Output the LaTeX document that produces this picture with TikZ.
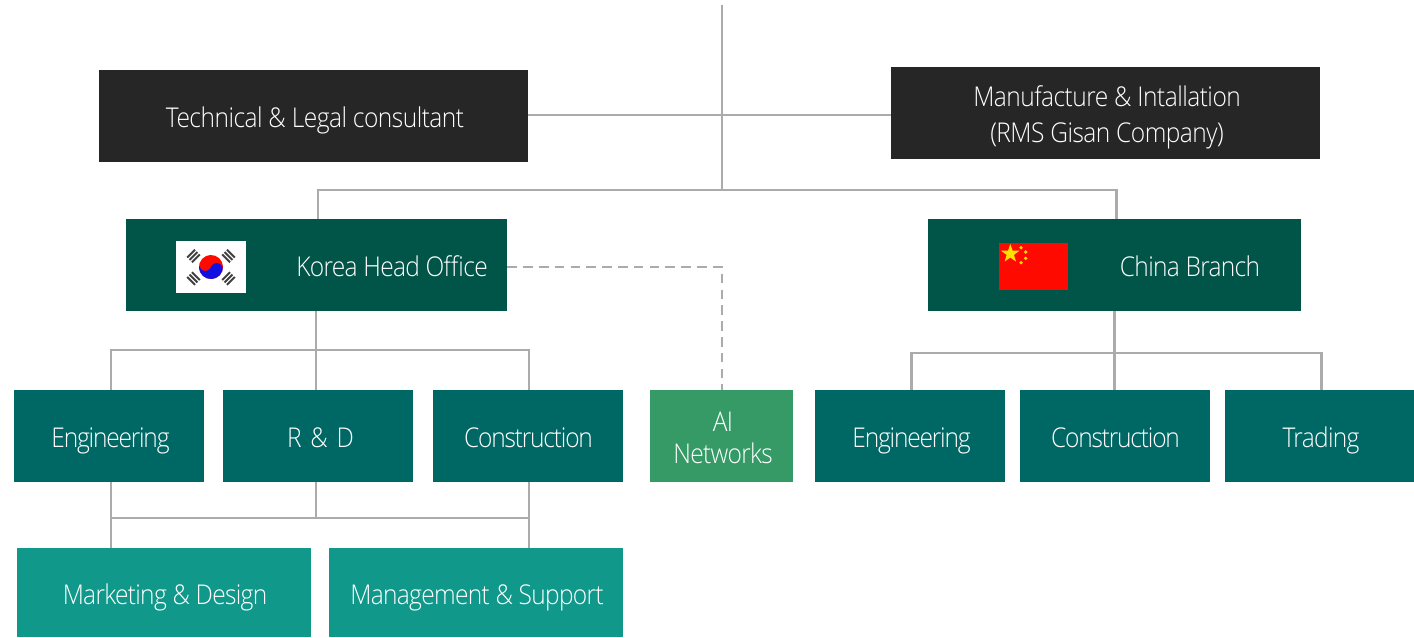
\documentclass[tikz,border=0pt]{standalone}
\usepackage{fontspec}
\setmainfont{Open Sans Light}[FakeStretch=0.9,LetterSpace=-2.5]
\usetikzlibrary{shapes.geometric}
\definecolor{linegray}{HTML}{ABABAB}
\definecolor{topgray}{HTML}{262626}
\definecolor{officegreen}{HTML}{005548}
\definecolor{deptteal}{HTML}{006864}
\definecolor{aigreen}{HTML}{359A66}
\definecolor{supportteal}{HTML}{10988A}
\definecolor{flagred}{HTML}{FF0A00}
\definecolor{flagblue}{HTML}{1010E0}
\definecolor{flagyellow}{HTML}{FFE000}
\tikzset{
  box/.style={inner sep=0, minimum height=1.84cm},
  link/.style={draw=linegray, line width=1.7pt},
  dashlink/.style={link, dash pattern=on 5.5pt off 3.5pt},
  lbl/.style={inner sep=0, text=white, align=center, font=\fontsize{15.5}{20}\selectfont, text height=11.5pt, text depth=0pt},
  lblwide/.style={lbl, font=\fontsize{15.5}{20}\selectfont\addfontfeature{LetterSpace=-1.9}},
  lbltight/.style={lbl, font=\fontsize{15.5}{20}\selectfont\addfontfeature{LetterSpace=-4.4}},
}
\begin{document}
\begin{tikzpicture} [x=.02cm,y=.02cm]
\useasboundingbox (0,0) rectangle (1414,637);
% top row
\node[box, fill=topgray, minimum width=8.58cm] (tech) at (313.5,521) {};
\node[box, fill=topgray, minimum width=8.58cm] (manu) at (1105.5,524) {};
\node[lblwide] (techlbl) at (315,520) {Technical \& Legal consultant};
\node[lblwide] (manulbl) at (1107,505) {Manufacture \& Intallation\\(RMS Gisan Company)};
% offices
\node[box, fill=officegreen, minimum width=7.62cm] (korea) at (316.5,372) {};
\node[box, fill=officegreen, minimum width=7.46cm] (china) at (1114.5,372) {};
\node[lbl] (korealbl) at (392,371) {Korea Head Office};
\node[lbl] (chinalbl) at (1190,371) {China Branch};
% departments
\node[box, fill=deptteal, minimum width=3.8cm] (engk) at (109,201) {};
\node[box, fill=deptteal, minimum width=3.8cm] (rnd) at (318,201) {};
\node[box, fill=deptteal, minimum width=3.8cm] (conk) at (528,201) {};
\node[box, fill=aigreen, minimum width=2.86cm] (ainet) at (721.5,201) {};
\node[box, fill=deptteal, minimum width=3.8cm] (engc) at (910,201) {};
\node[box, fill=deptteal, minimum width=3.8cm] (conc) at (1115,201) {};
\node[box, fill=deptteal, minimum width=3.78cm] (trade) at (1319.5,201) {};
\node[lbltight] (engklbl) at (110.5,200) {Engineering};
\node[lbl] (rndlbl) at (320.5,200) {R\hspace{1.7pt} \&\hspace{1.7pt} D};
\node[lbltight] (conklbl) at (528.5,200) {Construction};
\node[lbl, font=\fontsize{15.5}{18.2}\selectfont] (ainetlbl) at (723,184) {AI\\Networks};
\node[lbltight] (engclbl) at (911.5,200) {Engineering};
\node[lbltight] (conclbl) at (1115.5,200) {Construction};
\node[lbl] (tradelbl) at (1321,200) {Trading};
\node[box, fill=supportteal, minimum width=5.88cm, minimum height=1.78cm] (mark) at (164,44.5) {};
\node[box, fill=supportteal, minimum width=5.88cm, minimum height=1.78cm] (mgmt) at (476,44.5) {};
\node[lbl] (marklbl) at (165,43) {Marketing \& Design};
\node[lbl] (mgmtlbl) at (477,43) {Management \& Support};
% junctions
\coordinate (topend) at (722,632);
\coordinate (midtop) at (722,522);
\coordinate (hub) at (722,447);
\coordinate (korbus) at (316,287);
\coordinate (chnbus) at (1114,284);
\coordinate (lowbus) at (316,119);
\coordinate (dashbend) at (722,370);
\coordinate (engdrop) at (111,0);
\coordinate (condrop) at (529,0);
\coordinate (rnddrop) at (316,0);
\coordinate (engcdrop) at (911,0);
\coordinate (trddrop) at (1321,0);
% connectors
\draw[link] (topend) -- (hub);
\draw[link] (midtop -| tech.east) -- (midtop -| manu.west);
\draw[link] (korea.north -| 318,0) -- (318,447) -- (1116,447) -- (china.north -| 1116,0);
\draw[link] (korea.south -| korbus) -- (korbus);
\draw[link] (engk.north -| engdrop) -- (korbus -| engdrop) -- (korbus -| condrop) -- (conk.north -| condrop);
\draw[link] (korbus) -- (rnd.north -| korbus);
\draw[link] (china.south -| chnbus) -- (chnbus);
\draw[link] (engc.north -| engcdrop) -- (chnbus -| engcdrop) -- (chnbus -| trddrop) -- (trade.north -| trddrop);
\draw[link] (chnbus) -- (conc.north -| chnbus);
\draw[link] (engk.south -| engdrop) -- (mark.north -| engdrop);
\draw[link] (conk.south -| condrop) -- (mgmt.north -| condrop);
\draw[link] (rnd.south -| rnddrop) -- (lowbus);
\draw[link] (lowbus -| engdrop) -- (lowbus -| condrop);
\draw[dashlink] (korea.east |- dashbend) -- (dashbend) -- (ainet.north -| dashbend);
% korean flag
\fill[white] (176,344) rectangle (246,396);
\begin{scope}[shift={(211,370)},rotate=-20]
\fill[flagred] (0,0) circle (12);
\fill[flagblue] (-12,0) arc (180:360:12) arc (0:180:6) arc (360:180:6);
\end{scope}
\foreach \x/\y/\a in {193.5/381/45, 228.5/381/-45, 193.5/358.5/-45, 228.5/358.5/45} {
 \begin{scope}[shift={(\x,\y)},rotate=\a]
 \foreach \b in {-3.4,0,3.4} \fill[black!75] (-5.5,\b-1) rectangle (5.5,\b+1);
 \end{scope}
}
% chinese flag
\fill[flagred] (999,347) rectangle (1068,394);
\node[star, star points=5, star point ratio=2.5, fill=flagyellow, inner sep=0, minimum size=11] (bigstar) at (1010.3,383.3) {};
\foreach \x/\y in {1021/389.3, 1025.7/385, 1025.7/378.7, 1021/374.3}
 \fill[flagyellow] (\x,\y) circle (1.8);
\end{tikzpicture}
\end{document}
